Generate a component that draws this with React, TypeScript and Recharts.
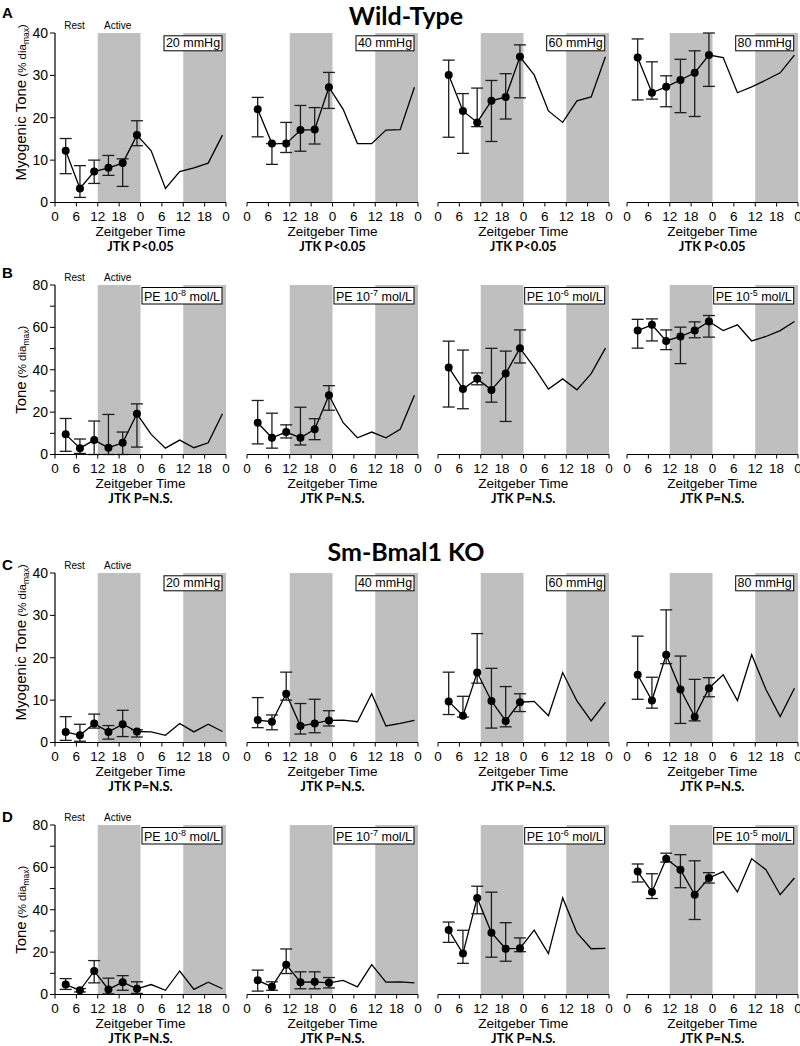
import React from 'react'
import {
  ComposedChart,
  Line,
  Scatter,
  ErrorBar,
  XAxis,
  YAxis,
  ReferenceArea
} from 'recharts'

// sampling times (ZT, h) and axis ticks
const zt = [3, 7, 11, 15, 19, 23]
const xTicks = [0, 6, 12, 18, 24, 30, 36, 42, 48]
const ticks40 = [0, 10, 20, 30, 40]
const ticks80 = [0, 10, 20, 30, 40, 50, 60, 70, 80]

// A: wild-type, myogenic tone (% diamax)
const wt20 = [12.2, 3.3, 7.3, 8.2, 9.3, 15.9]
const wt20Lo = [6.8, 1.2, 4.5, 6.4, 3.8, 13.4]
const wt20Hi = [15.1, 8.7, 10.0, 11.1, 10.3, 19.3]
const wt40 = [22.0, 13.9, 13.9, 17.1, 17.2, 27.2]
const wt40Lo = [15.5, 9.0, 11.8, 12.1, 13.8, 22.2]
const wt40Hi = [24.8, 13.9, 18.9, 22.9, 22.4, 30.7]
const wt60 = [30.1, 21.6, 18.9, 24.0, 24.9, 34.4]
const wt60Lo = [15.4, 11.6, 17.9, 14.4, 19.7, 24.7]
const wt60Hi = [33.6, 25.7, 27.0, 28.8, 30.4, 37.2]
const wt80 = [34.2, 25.9, 27.3, 28.9, 30.6, 34.8]
const wt80Lo = [24.2, 24.4, 22.6, 21.2, 20.3, 27.4]
const wt80Hi = [38.6, 33.2, 29.9, 33.8, 35.8, 40.0]

// B: wild-type, PE tone
const wtPe8 = [9.5, 3.0, 6.8, 3.2, 5.5, 19.2]
const wtPe8Lo = [1.5, 0.5, 0.0, 0.0, 0.0, 3.5]
const wtPe8Hi = [17.0, 7.3, 15.8, 18.9, 10.6, 23.9]
const wtPe7 = [15.0, 7.9, 10.6, 7.9, 11.9, 28.0]
const wtPe7Lo = [5.0, 3.0, 7.8, 4.5, 7.0, 20.9]
const wtPe7Hi = [25.5, 19.5, 14.0, 22.3, 16.9, 32.5]
const wtPe6 = [41.1, 30.9, 35.7, 30.5, 38.2, 50.2]
const wtPe6Lo = [22.4, 21.6, 32.9, 24.7, 15.6, 43.2]
const wtPe6Hi = [53.5, 49.3, 38.5, 50.1, 48.8, 58.8]
const wtPe5 = [58.5, 61.2, 53.6, 55.7, 58.5, 62.8]
const wtPe5Lo = [50.2, 53.6, 49.5, 42.9, 55.1, 55.4]
const wtPe5Hi = [63.8, 64.0, 58.8, 60.1, 62.6, 65.6]

// C: Sm-Bmal1 KO, myogenic tone
const ko20 = [2.5, 1.7, 4.5, 2.5, 4.3, 2.6]
const ko20Lo = [0.5, 0.3, 3.4, 0.8, 1.4, 1.3]
const ko20Hi = [6.1, 4.3, 6.7, 4.0, 7.6, 3.0]
const ko40 = [5.3, 4.9, 11.5, 3.9, 4.5, 5.2]
const ko40Lo = [3.5, 3.0, 10.0, 2.0, 2.3, 3.9]
const ko40Hi = [10.6, 6.5, 16.6, 9.2, 10.2, 7.5]
const ko60 = [9.7, 6.3, 16.5, 9.8, 5.1, 9.5]
const ko60Lo = [6.6, 6.0, 14.0, 3.4, 3.7, 7.3]
const ko60Hi = [16.6, 10.9, 25.7, 17.5, 13.2, 11.5]
const ko80 = [16.0, 9.9, 20.7, 12.5, 6.1, 12.8]
const ko80Lo = [10.2, 8.1, 18.6, 4.5, 5.1, 10.8]
const ko80Hi = [25.1, 15.4, 31.3, 20.4, 14.9, 15.3]

// D: Sm-Bmal1 KO, PE tone
const koPe8 = [4.7, 2.0, 11.1, 2.4, 5.8, 2.7]
const koPe8Lo = [2.4, 1.2, 5.5, 0.3, 2.0, 0.5]
const koPe8Hi = [7.5, 2.8, 16.0, 7.7, 8.9, 6.0]
const koPe7 = [6.7, 3.6, 14.1, 5.8, 6.0, 5.5]
const koPe7Lo = [1.6, 2.0, 9.9, 2.7, 2.7, 3.1]
const koPe7Hi = [11.5, 6.0, 21.5, 10.7, 10.7, 8.0]
const koPe6 = [30.4, 19.3, 45.6, 29.2, 21.6, 21.8]
const koPe6Lo = [24.6, 14.7, 38.1, 17.6, 15.7, 20.2]
const koPe6Hi = [34.2, 30.3, 51.1, 48.3, 33.9, 26.7]
const koPe5 = [58.0, 48.4, 64.1, 58.9, 47.1, 55.0]
const koPe5Lo = [53.1, 45.3, 62.5, 50.4, 35.4, 52.6]
const koPe5Hi = [61.6, 57.0, 66.7, 66.0, 63.1, 57.5]

const pressures = ['20 mmHg', '40 mmHg', '60 mmHg', '80 mmHg']
const peExps = ['-8', '-7', '-6', '-5']

const FONT = '"Liberation Sans", Arial, Helvetica, sans-serif'
const CAL = 'Lato, "Open Sans", sans-serif'

// layout
const PW = 171
const PH = 169.5
const PAD_L = 50
const PAD_T = 12
const PAD_R = 8
const XH = 26
const YW = 44
const colLefts = [55, 247, 437.7, 626.7]
const rowTops = [33.3, 285, 573.3, 825]

const rows = [
  {
    letter: 'A', title: 'Wild-Type', yMax: 40, myo: true, jtk: 'JTK P<0.05',
    sets: [[wt20, wt20Lo, wt20Hi], [wt40, wt40Lo, wt40Hi], [wt60, wt60Lo, wt60Hi], [wt80, wt80Lo, wt80Hi]]
  },
  {
    letter: 'B', title: null, yMax: 80, myo: false, jtk: 'JTK P=N.S.',
    sets: [[wtPe8, wtPe8Lo, wtPe8Hi], [wtPe7, wtPe7Lo, wtPe7Hi], [wtPe6, wtPe6Lo, wtPe6Hi], [wtPe5, wtPe5Lo, wtPe5Hi]]
  },
  {
    letter: 'C', title: 'Sm-Bmal1 KO', yMax: 40, myo: true, jtk: 'JTK P=N.S.',
    sets: [[ko20, ko20Lo, ko20Hi], [ko40, ko40Lo, ko40Hi], [ko60, ko60Lo, ko60Hi], [ko80, ko80Lo, ko80Hi]]
  },
  {
    letter: 'D', title: null, yMax: 80, myo: false, jtk: 'JTK P=N.S.',
    sets: [[koPe8, koPe8Lo, koPe8Hi], [koPe7, koPe7Lo, koPe7Hi], [koPe6, koPe6Lo, koPe6Hi], [koPe5, koPe5Lo, koPe5Hi]]
  }
]

const dot = (p: any) => <circle cx={p.cx} cy={p.cy} r={4} fill="#000" />

function Panel({ x0, top, yMax, mean, lo, hi, showY }: any) {
  // double-plotted: second day repeats the same means, line only
  const line = [...zt, ...zt.map((h) => h + 24)].map((h, i) => ({ x: h, v: mean[i % 6] }))
  const pts = zt.map((h, i) => ({ x: h, v: mean[i], err: [mean[i] - lo[i], hi[i] - mean[i]] }))
  const yTicks = yMax === 40 ? ticks40 : ticks80

  return (
    <div style={{ position: 'absolute', left: x0 - PAD_L, top: top - PAD_T }}>
      <ComposedChart
        width={PAD_L + PW + PAD_R}
        height={PAD_T + PH + XH}
        data={line}
        margin={{ top: PAD_T, right: PAD_R, bottom: 0, left: showY ? PAD_L - YW : PAD_L }}
      >
        <XAxis
          type="number"
          dataKey="x"
          domain={[0, 48]}
          ticks={xTicks}
          interval={0}
          tickFormatter={(v) => String(v % 24)}
          height={XH}
          tickSize={4}
          tickMargin={5}
          axisLine={{ stroke: '#000', strokeWidth: 1.2 }}
          tickLine={{ stroke: '#000' }}
          tick={{ fill: '#000', fontSize: 13.5, fontFamily: FONT }}
        />
        <YAxis
          type="number"
          domain={[0, yMax]}
          ticks={yTicks}
          interval={0}
          hide={!showY}
          width={YW}
          tickSize={5}
          tickMargin={2}
          tickFormatter={(v) => (yMax === 80 && v % 20 !== 0 ? '' : String(v))}
          axisLine={{ stroke: '#000', strokeWidth: 1.2 }}
          tickLine={{ stroke: '#000' }}
          tick={{ fill: '#000', fontSize: 14, fontFamily: FONT }}
        />
        <ReferenceArea x1={12} x2={24} y1={0} y2={yMax} fill="#bfbfbf" fillOpacity={1} stroke="none" />
        <ReferenceArea x1={36} x2={48} y1={0} y2={yMax} fill="#bfbfbf" fillOpacity={1} stroke="none" />
        <Line
          type="linear"
          dataKey="v"
          stroke="#000"
          strokeWidth={1.3}
          dot={false}
          isAnimationActive={false}
        />
        <Scatter data={pts} dataKey="v" shape={dot} isAnimationActive={false}>
          <ErrorBar dataKey="err" direction="y" width={6} stroke="#1e1e1e" strokeWidth={1.3} />
        </Scatter>
      </ComposedChart>
    </div>
  )
}

function Overlay() {
  return (
    <svg
      width={800}
      height={1046}
      style={{ position: 'absolute', left: 0, top: 0, pointerEvents: 'none' }}
    >
      {rows.map((row, r) => {
        const top = rowTops[r]
        const bottom = top + PH
        const yc = row.myo ? top + 69 : top + PH / 2
        const letterY = [17.5, 277.5, 570, 822][r]
        return (
          <g key={r} fontFamily={FONT} fill="#000">
            <text x={2} y={letterY} fontSize={15} fontWeight="bold">{row.letter}</text>
            {row.title && (
              <text
                x={406}
                y={r === 0 ? 25 : 561}
                textAnchor="middle"
                fontFamily={CAL}
                fontWeight={700}
                fontSize={25}
              >
                {row.title}
              </text>
            )}
            <text x={64.3} y={top - 4} fontSize={10}>Rest</text>
            <text x={104} y={top - 4} fontSize={10}>Active</text>
            <text transform={`translate(25.5, ${yc}) rotate(-90)`} textAnchor="middle">
              <tspan fontSize={15}>{row.myo ? 'Myogenic Tone' : 'Tone'}</tspan>
              <tspan fontSize={11.5}> (% dia</tspan>
              <tspan fontSize={8.5} dy={3}>max</tspan>
              <tspan fontSize={11.5} dy={-3}>)</tspan>
            </text>
            {colLefts.map((x0, c) => {
              const w = row.myo ? 58 : 80
              const h = row.myo ? 15 : 16.5
              const bx = x0 + PW - 4 - w
              const by = top + 2.5
              return (
                <g key={c}>
                  <rect x={bx} y={by} width={w} height={h} fill="#fff" stroke="#000" strokeWidth={1} />
                  {row.myo ? (
                    <text x={bx + w / 2} y={by + 11.5} textAnchor="middle" fontSize={12.5}>
                      {pressures[c]}
                    </text>
                  ) : (
                    <text x={bx + w / 2} y={by + 13} textAnchor="middle" fontSize={12.5}>
                      PE 10
                      <tspan fontSize={9} dy={-5}>{peExps[c]}</tspan>
                      <tspan dy={5}> mol/L</tspan>
                    </text>
                  )}
                  <text x={x0 + PW / 2} y={bottom + 33.5} textAnchor="middle" fontSize={13.5}>
                    Zeitgeber Time
                  </text>
                  <text
                    x={x0 + PW / 2}
                    y={bottom + 48}
                    textAnchor="middle"
                    fontFamily={CAL}
                    fontWeight={700}
                    fontSize={13}
                  >
                    {row.jtk}
                  </text>
                </g>
              )
            })}
          </g>
        )
      })}
    </svg>
  )
}

export default function App() {
  return (
    <div style={{ position: 'absolute', left: 0, top: 0, width: 800, height: 1046, background: '#fff' }}>
      {rows.map((row, r) =>
        row.sets.map((s, c) => (
          <Panel
            key={`${r}-${c}`}
            x0={colLefts[c]}
            top={rowTops[r]}
            yMax={row.yMax}
            mean={s[0]}
            lo={s[1]}
            hi={s[2]}
            showY={c === 0}
          />
        ))
      )}
      <Overlay />
    </div>
  )
}
